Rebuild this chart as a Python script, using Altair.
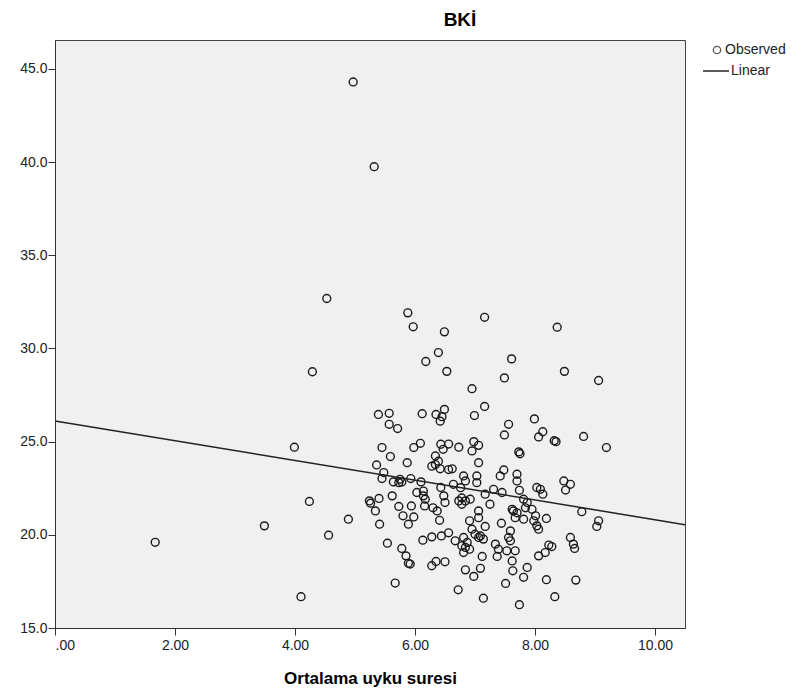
import altair as alt
import pandas as pd

# Ortalama uyku suresi (x) and BKİ (y)
sleep = [
    4.97, 5.32, 1.67,
    4.53, 5.88, 5.97, 6.49, 6.39, 6.18, 6.53, 4.29, 5.39, 5.57, 5.57, 5.71, 6.12, 6.35, 6.49, 6.45, 6.42,
    7.16, 8.37, 7.61, 7.49, 8.49, 9.06, 6.95, 7.16, 6.99, 7.99, 7.56, 7.49, 8.13, 8.06, 8.32, 8.35, 8.81,
    9.19, 6.56, 6.73, 6.98, 7.06, 7.73, 7.75,
    3.99, 4.24, 3.49, 4.56, 4.89, 4.10, 5.67, 5.54, 5.78, 5.85, 5.89, 5.92, 5.41, 5.34, 5.24, 5.26, 5.40,
    5.62, 5.73, 5.80, 5.94, 5.98, 5.89, 6.13, 6.28, 6.44, 6.28, 6.35, 6.50, 5.36, 5.45, 5.59, 5.48, 5.45,
    5.64, 5.75, 5.78, 5.73, 5.87, 5.98, 6.09, 5.93, 6.10, 6.03, 6.14, 6.14, 6.17, 6.16, 6.30, 6.37, 6.41,
    6.43, 6.48, 6.50, 6.28, 6.34, 6.39, 6.42, 6.34, 6.47, 6.43, 6.56,
    6.95, 6.62, 7.06, 6.81, 6.84, 7.03, 7.03, 7.42, 7.48, 7.70, 7.70, 6.64, 6.76, 7.31, 7.45, 7.74, 8.03,
    8.09, 8.13, 8.48, 8.59, 8.51, 6.73, 6.78, 6.84, 6.92, 6.78, 7.06, 7.06, 7.17, 7.25, 6.91, 6.95, 7.17,
    7.00, 7.09, 7.14, 7.06, 7.44, 7.59, 7.56, 7.59, 7.64, 7.70, 7.62, 7.67, 7.81, 7.87, 7.84, 7.81, 7.95,
    8.01, 7.98, 8.03, 8.06, 8.19, 8.78, 9.06, 9.03, 8.59, 8.64, 8.66, 8.23, 8.28, 8.17, 8.06, 6.56, 6.67,
    6.81, 6.87, 6.78, 6.84, 6.81, 6.91, 7.34, 7.39, 7.37, 7.53, 7.67, 7.12, 7.09, 7.62, 7.63, 7.87, 7.81,
    6.84, 6.98, 6.72, 7.14, 7.51, 7.74, 8.19, 8.33, 8.68,
]
bmi = [
    44.30, 39.75, 19.60,
    32.68, 31.91, 31.16, 30.89, 29.78, 29.30, 28.77, 28.75, 26.46, 26.52, 25.93, 25.70, 26.50, 26.46, 26.73, 26.34, 26.10,
    31.67, 31.14, 29.44, 28.42, 28.77, 28.28, 27.84, 26.89, 26.40, 26.22, 25.93, 25.36, 25.53, 25.25, 25.05, 25.00, 25.28,
    24.68, 24.87, 24.70, 25.00, 24.80, 24.45, 24.35,
    24.70, 21.79, 20.48, 19.98, 20.84, 16.68, 17.41, 19.55, 19.27, 18.87, 18.47, 18.43, 20.57, 21.28, 21.82, 21.70, 21.95,
    22.09, 21.52, 21.02, 21.55, 20.96, 20.57, 19.71, 19.89, 19.94, 18.34, 18.57, 18.55, 23.75, 24.68, 24.20, 23.34, 23.02,
    22.84, 22.98, 22.84, 22.80, 23.87, 24.68, 24.91, 23.02, 22.84, 22.27, 22.35, 22.09, 21.91, 21.55, 21.45, 21.28, 20.78,
    22.54, 22.09, 21.73, 23.68, 23.77, 23.95, 23.54, 24.23, 24.59, 24.86, 23.50,
    24.50, 23.54, 23.87, 23.16, 22.89, 23.16, 22.80, 23.16, 23.48, 23.25, 22.89, 22.71, 22.53, 22.44, 22.27, 22.39, 22.54,
    22.44, 22.18, 22.89, 22.71, 22.40, 21.82, 21.98, 21.82, 21.91, 21.64, 21.28, 20.92, 22.18, 21.64, 20.75, 20.30, 20.45,
    20.03, 19.94, 19.77, 19.86, 20.62, 20.21, 19.86, 19.68, 21.28, 21.18, 21.37, 20.92, 21.91, 21.73, 21.45, 20.84, 21.37,
    21.02, 20.75, 20.48, 20.30, 20.88, 21.24, 20.75, 20.45, 19.86, 19.50, 19.27, 19.45, 19.37, 19.05, 18.87, 20.11, 19.68,
    19.86, 19.59, 19.41, 19.32, 19.05, 19.23, 19.50, 19.23, 18.84, 19.14, 19.14, 18.84, 18.20, 18.60, 18.07, 18.25, 17.72,
    18.12, 17.77, 17.05, 16.60, 17.39, 16.25, 17.59, 16.68, 17.57,
]

x_ticks = [0, 2, 4, 6, 8, 10]
y_ticks = [15, 20, 25, 30, 35, 40, 45]
legend_labels = ["Observed", "Linear"]

df = pd.DataFrame({"x": sleep, "y": bmi})
FONT = "Liberation Sans"
INK = "#222222"

xscale = alt.Scale(domain=[0, 10.5], nice=False, zero=False)
yscale = alt.Scale(domain=[15, 46.55], nice=False, zero=False)

xaxis = alt.Axis(
    values=x_ticks,
    labelExpr="datum.value == 0 ? '.00' : format(datum.value, '.2f')",
    grid=False, tickSize=7, tickColor="#333", domainColor="#333",
    labelFontSize=14, labelColor=INK, labelFont=FONT, labelPadding=3,
    title="Ortalama uyku suresi", titleFont=FONT, titleFontSize=17,
    titleFontWeight="bold", titleColor="#000", titlePadding=18,
)
yaxis = alt.Axis(
    values=y_ticks, format=".1f", grid=False, tickSize=7, tickColor="#333",
    domainColor="#333", labelFontSize=14, labelColor=INK, labelFont=FONT,
    labelPadding=1, title=None,
)

points = alt.Chart(df).mark_point(
    shape="circle", filled=False, color="#1a1a1a", size=62, strokeWidth=1.4, opacity=1
).encode(
    x=alt.X("x:Q", scale=xscale, axis=xaxis),
    y=alt.Y("y:Q", scale=yscale, axis=yaxis),
)

fit = alt.Chart(df).transform_regression(
    "x", "y", method="linear", extent=[0, 10.5]
).mark_line(color=INK, strokeWidth=1.5).encode(
    x=alt.X("x:Q", scale=xscale),
    y=alt.Y("y:Q", scale=yscale),
)

leg_obs_sym = alt.Chart(pd.DataFrame({"t": [legend_labels[0]]})).mark_point(
    shape="circle", filled=False, color="#1a1a1a", size=55, strokeWidth=1.3
).encode(x=alt.value(662), y=alt.value(10))
leg_obs_txt = alt.Chart(pd.DataFrame({"t": [legend_labels[0]]})).mark_text(
    align="left", baseline="middle", font=FONT, fontSize=14, color=INK
).encode(text="t:N", x=alt.value(670), y=alt.value(10))
leg_lin_sym = alt.Chart(pd.DataFrame({"t": [legend_labels[1]]})).mark_rule(
    color=INK, strokeWidth=1.5
).encode(x=alt.value(648), x2=alt.value(674), y=alt.value(31))
leg_lin_txt = alt.Chart(pd.DataFrame({"t": [legend_labels[1]]})).mark_text(
    align="left", baseline="middle", font=FONT, fontSize=14, color=INK
).encode(text="t:N", x=alt.value(676), y=alt.value(31))

chart = alt.layer(
    points, fit, leg_obs_sym, leg_obs_txt, leg_lin_sym, leg_lin_txt
).properties(
    width=630, height=588,
    background="white",
    autosize=alt.AutoSizeParams(type="none"),
    padding={"left": 47, "top": 32, "right": 110, "bottom": 62},
    title=alt.TitleParams(
        "BKİ", font=FONT, fontSize=19, fontWeight="bold", color="#000",
        anchor="middle", dx=90, offset=10,
    ),
).configure_view(
    fill="#f0f0f0", stroke="#444", strokeWidth=1
)

chart.save("out.html", embed_options={"renderer": "svg", "actions": False})
